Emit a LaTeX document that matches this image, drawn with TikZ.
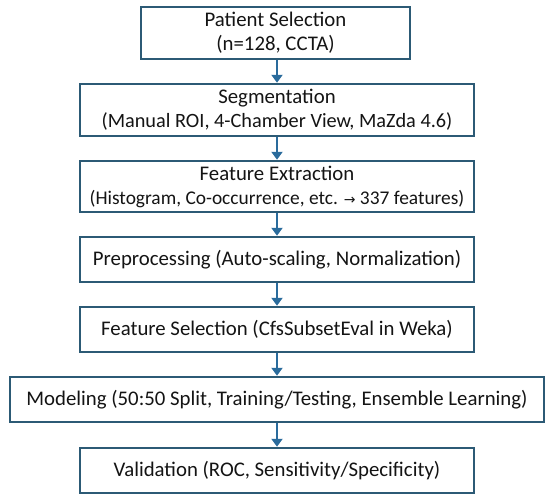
\documentclass[tikz,border=0pt]{standalone}
\usepackage{fontspec}
\setmainfont{Carlito}
\newfontfamily\dvfont{DejaVu Sans}
\usetikzlibrary{arrows.meta}
\definecolor{boxline}{HTML}{2C5A75}
\definecolor{arrowc}{HTML}{2A6B9C}
\definecolor{txt}{HTML}{141414}
\tikzset{
  stepbox/.style={draw=boxline, line width=2.5pt, fill=white, rectangle, inner sep=0pt,
    align=center, text=txt, font=\fontsize{20.8}{24}\selectfont},
  flowarrow/.style={draw=arrowc, line width=2pt, -{Triangle[length=8pt,width=11pt]}}
}
\begin{document}
\begin{tikzpicture}[x=1pt,y=-1pt]
\useasboundingbox (0,0) rectangle (550,501);
\node[stepbox, minimum width=269pt, minimum height=52pt] (b1) at (275.5,33) {Patient Selection\\(n=128, CCTA)};
\node[stepbox, minimum width=394pt, minimum height=52pt] (b2) at (277,110) {Segmentation\\{\fontsize{20.3}{24}\selectfont(Manual ROI, 4-Chamber View, MaZda 4.6)}};
\node[stepbox, minimum width=394pt, minimum height=51pt] (b3) at (277,186.5) {Feature Extraction\\{\fontsize{19.4}{24}\selectfont(Histogram, Co-occurrence, etc. {\dvfont\fontsize{14}{24}\selectfont →} 337 features)}};
\node[stepbox, minimum width=394pt, minimum height=45pt] (b4) at (277,259.5) {Preprocessing (Auto-scaling, Normalization)};
\node[stepbox, minimum width=394pt, minimum height=45pt] (b5) at (277,329.5) {Feature Selection (CfsSubsetEval in Weka)};
\node[stepbox, minimum width=534pt, minimum height=45pt] (b6) at (277,399.5) {Modeling (50:50 Split, Training/Testing, Ensemble Learning)};
\node[stepbox, minimum width=394pt, minimum height=45pt] (b7) at (277,470.5) {Validation (ROC, Sensitivity/Specificity)};
\draw[flowarrow] (b1.south -| b2.north) -- (b2.north);
\draw[flowarrow] (b2.south) -- (b3.north);
\draw[flowarrow] (b3.south) -- (b4.north);
\draw[flowarrow] (b4.south) -- (b5.north);
\draw[flowarrow] (b5.south) -- (b6.north);
\draw[flowarrow] (b6.south) -- (b7.north);
\end{tikzpicture}
\end{document}
